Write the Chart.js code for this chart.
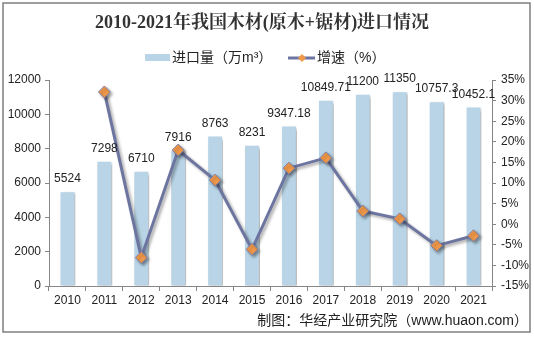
<!DOCTYPE html>
<html lang="zh">
<head>
<meta charset="UTF-8">
<title>2010-2021年我国木材(原木+锯材)进口情况</title>
<script src="https://cdn.jsdelivr.net/npm/chart.js"></script>
<style>
  body { margin: 0; padding: 0; background: #fff; }
  #wrap { width: 534px; height: 337px; position: relative; }
</style>
</head>
<body>
<div id="wrap"><canvas id="grafico" width="534" height="337"></canvas></div>
<script>
// dati
const anni = ['2010', '2011', '2012', '2013', '2014', '2015', '2016', '2017', '2018', '2019', '2020', '2021'];
const importazioni = [5524, 7298, 6710, 7916, 8763, 8231, 9347.18, 10849.71, 11200, 11350, 10757.3, 10452.1];
const etichette = ['5524', '7298', '6710', '7916', '8763', '8231', '9347.18', '10849.71', '11200', '11350', '10757.3', '10452.1'];
const crescita = [null, 32.1, -8.1, 18.0, 10.7, -6.1, 13.6, 16.1, 3.2, 1.3, -5.2, -2.8];

const titolo = '2010-2021年我国木材(原木+锯材)进口情况';
const fonte = '制图：华经产业研究院（www.huaon.com）';
const nomeBarre = '进口量（万m³）';
const nomeLinea = '增速（%）';

const coloreBarre = '#b8d4e6';
const coloreLinea = '#6c74a0';
const colorePunti = '#f0984a';
const coloreAssi = '#868686';
const fontTesto = 'Arial, "Liberation Sans", "Noto Sans CJK SC", sans-serif';

// ombra per barre e linea
const ombra = {
    id: 'ombra',
    beforeDatasetDraw(chart) {
        const c = chart.ctx;
        c.save();
        c.shadowColor = 'rgba(0,0,0,0.35)';
        c.shadowBlur = 3;
        c.shadowOffsetX = 2;
        c.shadowOffsetY = 2;
    },
    afterDatasetDraw(chart) {
        chart.ctx.restore();
    }
};

// titolo, legenda, etichette e cornice
const decorazioni = {
    id: 'decorazioni',
    afterDraw(chart) {
        const c = chart.ctx;
        c.save();
        // cornice
        c.strokeStyle = '#7f7f7f';
        c.lineWidth = 1.5;
        c.strokeRect(3, 3, 527, 329);

        // titolo
        c.fillStyle = '#333';
        c.font = 'bold 18px "Liberation Serif", "Noto Serif CJK SC", "Noto Sans CJK SC", serif';
        c.textAlign = 'center';
        c.textBaseline = 'middle';
        c.fillText(titolo, 262, 23);

        // legenda
        c.font = '14px ' + fontTesto;
        c.textAlign = 'left';
        c.fillStyle = coloreBarre;
        c.fillRect(145, 54, 25, 7);
        c.fillStyle = '#222';
        c.fillText(nomeBarre, 172, 58);
        c.strokeStyle = coloreLinea;
        c.lineWidth = 3;
        c.beginPath();
        c.moveTo(288, 58);
        c.lineTo(315, 58);
        c.stroke();
        c.fillStyle = colorePunti;
        c.beginPath();
        c.moveTo(302, 54); c.lineTo(306, 58); c.lineTo(302, 62); c.lineTo(298, 58);
        c.closePath();
        c.fill();
        c.fillStyle = '#222';
        c.fillText(nomeLinea, 317, 58);

        // etichette sopra le barre
        const meta = chart.getDatasetMeta(1);
        c.font = '12px ' + fontTesto;
        c.textAlign = 'center';
        c.textBaseline = 'alphabetic';
        c.fillStyle = '#222';
        meta.data.forEach((bar, i) => {
            c.fillText(etichette[i], bar.x, bar.y - 9);
        });

        // fonte
        c.font = '14px ' + fontTesto;
        c.textAlign = 'right';
        c.textBaseline = 'middle';
        c.fillText(fonte, 528, 321);
        c.restore();
    }
};

const ctx = document.getElementById('grafico').getContext('2d');
new Chart(ctx, {
    data: {
        labels: anni,
        datasets: [
            {
                type: 'line',
                label: nomeLinea,
                data: crescita,
                yAxisID: 'y1',
                borderColor: coloreLinea,
                borderWidth: 3,
                pointStyle: 'rectRot',
                pointRadius: 6,
                pointBackgroundColor: colorePunti,
                pointBorderColor: '#7f80a8',
                pointBorderWidth: 1,
                tension: 0,
                order: 0
            },
            {
                type: 'bar',
                label: nomeBarre,
                data: importazioni,
                yAxisID: 'y',
                backgroundColor: coloreBarre,
                borderColor: '#ffffff',
                borderWidth: 1,
                barPercentage: 0.43,
                categoryPercentage: 1,
                order: 1
            }
        ]
    },
    options: {
        responsive: false,
        animation: false,
        layout: { padding: { top: 80, left: 0, right: 0, bottom: 0 } },
        plugins: {
            legend: { display: false },
            title: { display: false },
            tooltip: { enabled: false }
        },
        scales: {
            x: {
                grid: { display: true, drawOnChartArea: false, offset: true, tickLength: 5, color: coloreAssi },
                border: { color: coloreAssi },
                ticks: { color: '#222', font: { size: 12, family: fontTesto }, padding: 2, maxRotation: 0 },
                afterFit(scale) { scale.height = 51; }
            },
            y: {
                position: 'left',
                min: 0, max: 12000,
                grid: { display: true, drawOnChartArea: false, tickLength: 4, color: coloreAssi },
                border: { color: coloreAssi },
                ticks: {
                    stepSize: 2000, color: '#222', font: { size: 12, family: fontTesto }, padding: 4,
                    callback: v => String(v)
                },
                afterFit(scale) { scale.width = 49; }
            },
            y1: {
                position: 'right',
                min: -15, max: 35,
                grid: { display: true, drawOnChartArea: false, tickLength: 4, color: coloreAssi },
                border: { color: coloreAssi },
                ticks: {
                    stepSize: 5, color: '#222', font: { size: 12, family: fontTesto }, padding: 5,
                    callback: v => v + '%'
                },
                afterFit(scale) { scale.width = 42; }
            }
        }
    },
    plugins: [ombra, decorazioni]
});
</script>
</body>
</html>
